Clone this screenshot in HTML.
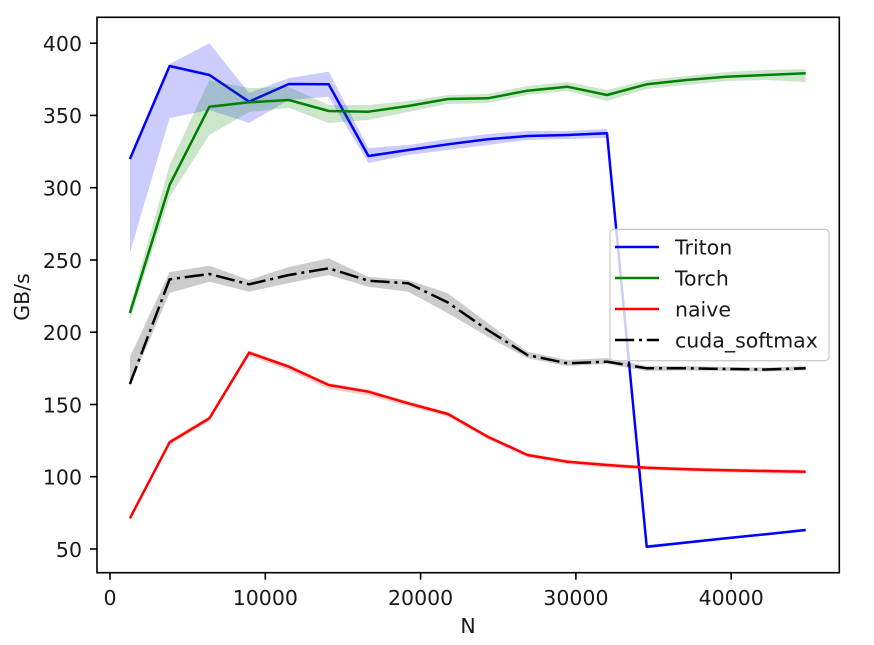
<!DOCTYPE html>
<html>
<head>
<meta charset="utf-8">
<style>
  html, body { margin: 0; padding: 0; background: #ffffff; }
  svg { display: block; }
  text { font-family: "DejaVu Sans", "Liberation Sans", sans-serif; fill: #1a1a1a; }
</style>
</head>
<body>
<svg width="874" height="645" viewBox="0 0 874 645" xmlns="http://www.w3.org/2000/svg">
  <rect x="0" y="0" width="874" height="645" fill="#ffffff"/>

  <!-- Triton -->
  <polygon fill="rgba(0,0,255,0.2)" points="129.9,158 169.6,64 209.4,43.3 249.1,93 288.9,78 328.7,71.7 368.4,148 408.2,145 447.9,139 487.7,134 527.4,131 567.2,131 607,129 646.7,545 686.5,541 726.2,537 766,533 805.7,528.5 805.7,531.5 766,535.5 726.2,539.5 686.5,544 646.7,548.5 607,138 567.2,139 527.4,140 487.7,145 447.9,150 408.2,155 368.4,163 328.7,96.7 288.9,100 249.1,123 209.4,110 169.6,118 129.9,253"/>
  <polyline fill="none" stroke="#0000ff" stroke-width="2.5" stroke-linejoin="round" points="129.9,159 169.6,66 209.4,75 249.1,101.7 288.9,84 328.7,84.3 368.4,156 408.2,150 447.9,144.3 487.7,139.3 527.4,136 567.2,135 607,133.3 646.7,546.7 686.5,542.5 726.2,538.3 766,534.2 805.7,530"/>

  <!-- Torch -->
  <polygon fill="rgba(0,128,0,0.2)" points="129.9,306 169.6,165 209.4,80 249.1,88 288.9,87 328.7,105 368.4,105 408.2,101 447.9,95 487.7,94 527.4,86 567.2,82 607,90 646.7,80 686.5,76 726.2,72 766,70 805.7,69 805.7,82 766,80 726.2,81 686.5,85 646.7,89 607,101 567.2,91 527.4,95 487.7,103 447.9,104 408.2,112 368.4,120 328.7,123 288.9,108 249.1,112 209.4,135 169.6,197 129.9,320"/>
  <polyline fill="none" stroke="#008000" stroke-width="2.5" stroke-linejoin="round" points="129.9,313 169.6,185 209.4,106.7 249.1,102.3 288.9,100 328.7,111 368.4,111.7 408.2,106 447.9,99 487.7,98.3 527.4,90.7 567.2,86.7 607,95 646.7,84.3 686.5,80 726.2,76.7 766,75 805.7,73.3"/>

  <!-- naive -->
  <polygon fill="rgba(255,0,0,0.2)" points="129.9,516 169.6,440 209.4,416 249.1,350.5 288.9,364.5 328.7,383 368.4,389.5 408.2,401.3 447.9,412 487.7,434.7 527.4,453 567.2,459.7 607,463 646.7,465.7 686.5,467.2 726.2,468.3 766,469 805.7,469.7 805.7,474 766,473.3 726.2,472.6 686.5,471.5 646.7,470 607,467.5 567.2,464.2 527.4,457.5 487.7,439.2 447.9,416.8 408.2,406.3 368.4,395.5 328.7,389 288.9,370.5 249.1,356 209.4,421 169.6,445 129.9,520.5"/>
  <polyline fill="none" stroke="#ff0000" stroke-width="2.5" stroke-linejoin="round" points="129.9,518.3 169.6,442.3 209.4,418.3 249.1,352.7 288.9,366.7 328.7,385 368.4,391.7 408.2,403.3 447.9,414 487.7,436.7 527.4,455 567.2,461.7 607,465 646.7,467.7 686.5,469.2 726.2,470.3 766,471 805.7,471.7"/>

  <!-- cuda_softmax -->
  <polygon fill="rgba(0,0,0,0.2)" points="129.9,357 169.6,272 209.4,265.7 249.1,280 288.9,267 328.7,258.3 368.4,277 408.2,280 447.9,293.3 487.7,323 527.4,351.7 567.2,360 607,358 646.7,366 686.5,366 726.2,367 766,367.5 805.7,366 805.7,370.5 766,371.5 726.2,371 686.5,370.5 646.7,371 607,364 567.2,366 527.4,358.3 487.7,336.7 447.9,313.3 408.2,291.7 368.4,286.7 328.7,275 288.9,283 249.1,291.7 209.4,281.7 169.6,293 129.9,386"/>
  <polyline fill="none" stroke="#000000" stroke-width="2.5" stroke-linejoin="round" stroke-dasharray="19.2 4.8 3 4.8" points="129.9,384 169.6,279.3 209.4,274 249.1,284.3 288.9,275 328.7,268.3 368.4,280.7 408.2,283.3 447.9,302.5 487.7,330 527.4,355 567.2,363.3 607,361.7 646.7,368.3 686.5,368.3 726.2,369 766,369.5 805.7,368.3"/>

  <!-- axes frame -->
  <rect x="97" y="17.3" width="742.3" height="555.4" fill="none" stroke="#000000" stroke-width="1.6"/>

  <!-- y ticks -->
  <g stroke="#000000" stroke-width="1.6">
    <line x1="90" y1="549" x2="97" y2="549"/>
    <line x1="90" y1="476.7" x2="97" y2="476.7"/>
    <line x1="90" y1="404.5" x2="97" y2="404.5"/>
    <line x1="90" y1="332.2" x2="97" y2="332.2"/>
    <line x1="90" y1="260" x2="97" y2="260"/>
    <line x1="90" y1="187.7" x2="97" y2="187.7"/>
    <line x1="90" y1="115.4" x2="97" y2="115.4"/>
    <line x1="90" y1="43.2" x2="97" y2="43.2"/>
  </g>
  <g font-size="20.5" text-anchor="end">
    <text x="82" y="556.8">50</text>
    <text x="82" y="484.5">100</text>
    <text x="82" y="412.3">150</text>
    <text x="82" y="340">200</text>
    <text x="82" y="267.8">250</text>
    <text x="82" y="195.5">300</text>
    <text x="82" y="123.2">350</text>
    <text x="82" y="51">400</text>
  </g>

  <!-- x ticks -->
  <g stroke="#000000" stroke-width="1.6">
    <line x1="110" y1="572.7" x2="110" y2="579.7"/>
    <line x1="265.3" y1="572.7" x2="265.3" y2="579.7"/>
    <line x1="420.6" y1="572.7" x2="420.6" y2="579.7"/>
    <line x1="575.9" y1="572.7" x2="575.9" y2="579.7"/>
    <line x1="731.2" y1="572.7" x2="731.2" y2="579.7"/>
  </g>
  <g font-size="20.5" text-anchor="middle">
    <text x="110" y="605">0</text>
    <text x="265.3" y="605">10000</text>
    <text x="420.6" y="605">20000</text>
    <text x="575.9" y="605">30000</text>
    <text x="731.2" y="605">40000</text>
  </g>

  <!-- axis labels -->
  <text x="468" y="633" font-size="20.5" text-anchor="middle">N</text>
  <text x="29" y="297" font-size="20.5" text-anchor="middle" transform="rotate(-90 29 297)">GB/s</text>

  <!-- legend -->
  <rect x="610" y="229.3" width="219" height="131.4" rx="4" ry="4" fill="rgba(255,255,255,0.8)" stroke="#cccccc" stroke-width="1.3"/>
  <line x1="615" y1="247" x2="659" y2="247" stroke="#0000ff" stroke-width="2.5"/>
  <line x1="615" y1="278" x2="659" y2="278" stroke="#008000" stroke-width="2.5"/>
  <line x1="615" y1="309" x2="659" y2="309" stroke="#ff0000" stroke-width="2.5"/>
  <line x1="615" y1="340" x2="659" y2="340" stroke="#000000" stroke-width="2.5" stroke-dasharray="19.2 4.8 3 4.8"/>
  <g font-size="20.5">
    <text x="675" y="254.5">Triton</text>
    <text x="675" y="285.5">Torch</text>
    <text x="675" y="316.5">naive</text>
    <text x="675" y="347.5">cuda_softmax</text>
  </g>
</svg>
</body>
</html>
